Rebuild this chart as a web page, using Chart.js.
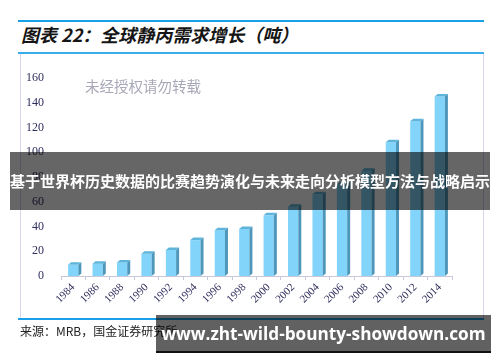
<!DOCTYPE html>
<html><head><meta charset="utf-8">
<script src="https://cdn.jsdelivr.net/npm/chart.js@4/dist/chart.umd.min.js"></script>
<style>
html,body{margin:0;padding:0;background:#fff;}
#wrap{position:relative;width:500px;height:362px;overflow:hidden;}
canvas{position:absolute;left:0;top:0;}
.abs{position:absolute;}
#title{left:21px;top:22px;font:italic bold 18px "Noto Sans CJK SC",sans-serif;color:#151515;white-space:nowrap;line-height:24px;}
#l1{left:18px;top:20px;width:466px;height:2px;background:#1aa0e6;}
#l2{left:18px;top:52px;width:466px;height:2px;background:#3aaeea;}
#l3{left:18px;top:318px;width:466px;height:2px;background:#1aa0e6;}
#fl{left:20px;top:54px;width:1px;height:264px;background:#d6d6ee;}
#fr{left:483px;top:54px;width:1px;height:264px;background:#d6d6ee;}
#wm{left:85px;top:76px;font:14.5px "Noto Sans CJK SC",sans-serif;color:#a8a8b8;white-space:nowrap;line-height:20px;}
#src{left:20px;top:322px;font:12px "Noto Sans CJK SC",sans-serif;color:#222;white-space:nowrap;line-height:18px;}
#ban{left:10px;top:152px;width:480px;height:58px;background:rgba(0,0,0,0.6);}
#bant{left:0;top:152px;width:500px;height:58px;text-align:center;font:bold 15px "Noto Sans CJK SC",sans-serif;line-height:58px;color:#fff;white-space:nowrap;}
#url{left:156px;top:315px;width:335px;height:36px;background:rgba(0,0,0,0.62);border-bottom:2px solid #111;}
#urlt{left:156px;top:315px;width:335px;height:36px;text-align:center;font:bold 17.2px "Open Sans",sans-serif;line-height:38px;color:#fff;white-space:nowrap;}
</style></head>
<body><div id="wrap">
<div class="abs" id="l1"></div>
<div class="abs" id="title">图表 22：全球静丙需求增长（吨）</div>
<div class="abs" id="l2"></div>
<div class="abs" id="fl"></div>
<div class="abs" id="fr"></div>
<canvas id="c" width="500" height="362"></canvas>
<div class="abs" id="wm">未经授权请勿转载</div>
<div class="abs" id="l3"></div>
<div class="abs" id="src">来源：MRB，国金证券研究所</div>
<div class="abs" id="ban"></div>
<div class="abs" id="bant">基于世界杯历史数据的比赛趋势演化与未来走向分析模型方法与战略启示</div>
<div class="abs" id="url"></div>
<div class="abs" id="urlt">www.zht-wild-bounty-showdown.com</div>
</div>
<script>
const years = ["1984","1986","1988","1990","1992","1994","1996","1998","2000","2002","2004","2006","2008","2010","2012","2014"];
const demand = [9,10,11,18,21,29,37,38,49,56,66,74,85,108,125,145];
const yTicks = [0,20,40,60,80,100,120,140,160];

const bar3d = {
  id:'bar3d',
  afterDatasetsDraw(chart){
    const ctx = chart.ctx;
    const meta = chart.getDatasetMeta(0);
    const d = 3, dy = 2.5;
    meta.data.forEach(el=>{
      const p = el.getProps(['x','y','base','width'], true);
      const l = p.x - p.width/2, r = p.x + p.width/2;
      ctx.save();
      ctx.fillStyle = '#4f97ba';
      ctx.beginPath();
      ctx.moveTo(r, p.y); ctx.lineTo(r+d, p.y-dy); ctx.lineTo(r+d, p.base-dy); ctx.lineTo(r, p.base);
      ctx.closePath(); ctx.fill();
      ctx.fillStyle = '#5eb4da';
      ctx.beginPath();
      ctx.moveTo(l, p.y); ctx.lineTo(l+d, p.y-dy); ctx.lineTo(r+d, p.y-dy); ctx.lineTo(r, p.y);
      ctx.closePath(); ctx.fill();
      ctx.restore();
    });
  }
};

new Chart(document.getElementById('c'), {
  type:'bar',
  data:{labels:years, datasets:[{data:demand, backgroundColor:'#82d4fb', borderWidth:0, barPercentage:0.42, categoryPercentage:1}]},
  options:{
    responsive:false, animation:false,
    layout:{padding:{top:78,right:48,left:0,bottom:0}},
    plugins:{legend:{display:false}, tooltip:{enabled:false}},
    scales:{
      x:{
        afterFit(s){ s.height = 86; },
        grid:{drawOnChartArea:false, tickLength:4, color:'#c8c8dc', offset:true},
        border:{color:'#c8c8dc'},
        ticks:{maxRotation:45, minRotation:45, padding:1, color:'#2e2e5e', font:{family:'Liberation Serif', size:11}}
      },
      y:{
        min:0, max:160,
        afterFit(s){ s.width = 61; },
        afterBuildTicks(s){ s.ticks = yTicks.map(v=>({value:v})); },
        grid:{display:false},
        border:{display:false},
        ticks:{padding:9, color:'#2e2e5e', font:{family:'Liberation Serif', size:12}}
      }
    }
  },
  plugins:[bar3d]
});
</script>
</body></html>
